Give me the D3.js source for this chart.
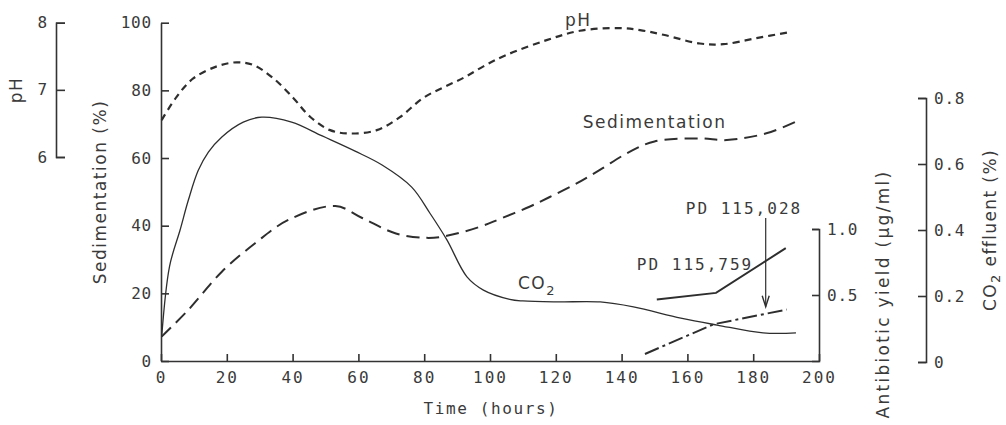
<!DOCTYPE html>
<html>
<head>
<meta charset="utf-8">
<script src="https://cdn.jsdelivr.net/npm/d3@7"></script>
<style>
  body { margin: 0; background: #fff; }
  svg { display: block; }
  .axis path, .axis line { stroke: #333; stroke-width: 1.6; fill: none; }
  .axis text { font-family: "DejaVu Sans Mono", monospace; font-size: 16px; fill: #3a3a3a; letter-spacing: 0.8px; }
  .x.axis text { letter-spacing: 2px; }
  .label { font-family: "DejaVu Sans", sans-serif; font-size: 17px; fill: #3a3a3a; letter-spacing: 1.5px; }
  .mono { font-family: "DejaVu Sans Mono", monospace; font-size: 16px; fill: #3a3a3a; letter-spacing: 2px; }
  .curve { fill: none; stroke: #2e2e2e; }
</style>
</head>
<body>
<div id="chart"></div>
<script>
// ---------------------------------------------------------------------------
// values: [time (h), value]

var timeTicks = [0, 20, 40, 60, 80, 100, 120, 140, 160, 180, 200];
var sedTicks = [0, 20, 40, 60, 80, 100];
var phTicks = [6, 7, 8];
var yieldTicks = [0.5, 1.0];
var co2Ticks = [0, 0.2, 0.4, 0.6, 0.8];

// pH (left outer axis)
var phSeries = [
  [0.2, 6.55], [4.8, 6.90], [9.8, 7.17], [17, 7.35], [23, 7.41], [28.1, 7.37],
  [34.2, 7.17], [40.2, 6.88], [45.3, 6.60], [51.4, 6.40], [57.5, 6.35],
  [65.6, 6.40], [72.5, 6.59], [79.7, 6.88], [86, 7.04], [92, 7.18],
  [98, 7.35], [105, 7.52], [117.2, 7.74], [127.3, 7.88], [139.5, 7.92], [145.6, 7.89],
  [152.7, 7.82], [163.8, 7.69], [170.9, 7.68], [181, 7.77], [191.2, 7.86]
];

// Sedimentation (%)
var sedSeries = [
  [0.2, 7.2], [8.3, 15.1], [18.5, 26.4], [28.6, 34.8], [38.7, 41.7], [53, 45.8],
  [61.3, 42.2], [71.4, 37.7], [80.8, 36.4], [86.9, 37.0], [97, 39.7],
  [103, 42.0], [112, 45.6], [118, 48.4], [126, 52.3], [133.4, 56.5], [142, 61.6],
  [150, 64.9], [163.8, 65.8], [172, 65.3], [184, 67.3], [192.7, 70.6]
];

// CO2 effluent (%)
var co2Series = [
  [0.2, 0.076], [2.6, 0.29], [5.8, 0.40], [8.3, 0.49], [11.3, 0.58], [14.4, 0.636],
  [18.5, 0.682], [25, 0.727], [30.6, 0.742], [39.7, 0.727], [49, 0.685],
  [59, 0.639], [67.2, 0.597], [76.2, 0.530], [81.8, 0.45], [86.9, 0.37],
  [93, 0.258], [98, 0.218], [106, 0.19], [110, 0.185], [120, 0.182],
  [133.5, 0.182], [143.6, 0.167], [158, 0.133], [169, 0.112], [183, 0.088],
  [193, 0.088]
];

// Antibiotic yield (ug/ml)
var pd115759 = [[150.7, 0.466], [168.7, 0.516], [189.9, 0.855]];
var pd115028 = [[147.1, 0.053], [167.9, 0.278], [190.2, 0.39]];

// ---------------------------------------------------------------------------

var width = 1006, height = 425;

var svg = d3.select('#chart').append('svg')
  .attr('width', width)
  .attr('height', height);

var x = d3.scaleLinear().domain([0, 200]).range([161, 819]);
var ySed = d3.scaleLinear().domain([0, 100]).range([361, 22.7]);
var yPh = d3.scaleLinear().domain([6, 8]).range([157, 22.7]);
var yYield = d3.scaleLinear().domain([0, 1]).range([361, 229]);
var yCo2 = d3.scaleLinear().domain([0, 0.8]).range([362, 98]);

// axes
svg.append('g')
  .attr('class', 'x axis')
  .attr('transform', 'translate(0,' + ySed(0) + ')')
  .call(d3.axisBottom(x).tickValues(timeTicks).tickSizeInner(-7).tickSizeOuter(0).tickPadding(11));

svg.append('g')
  .attr('class', 'axis')
  .attr('transform', 'translate(' + x(0) + ',0)')
  .call(d3.axisLeft(ySed).tickValues(sedTicks).tickSizeInner(-8).tickSizeOuter(0).tickPadding(9));

svg.append('g')
  .attr('class', 'axis')
  .attr('transform', 'translate(56,0)')
  .call(d3.axisLeft(yPh).tickValues(phTicks).tickSizeInner(-9).tickSizeOuter(-9)
    .tickPadding(8).tickFormat(d3.format('d')));

svg.append('g')
  .attr('class', 'axis')
  .attr('transform', 'translate(' + x(200) + ',0)')
  .call(d3.axisRight(yYield).tickValues(yieldTicks).tickSizeInner(-7).tickSizeOuter(-7)
    .tickPadding(8).tickFormat(d3.format('.1f')));

svg.append('g')
  .attr('class', 'axis')
  .attr('transform', 'translate(926,0)')
  .call(d3.axisRight(yCo2).tickValues(co2Ticks).tickSizeInner(-8).tickSizeOuter(-8)
    .tickPadding(8).tickFormat(function(d) { return d === 0 ? '0' : d3.format('.1f')(d); }));

// curves
function smooth(yScale) {
  return d3.line()
    .x(function(d) { return x(d[0]); })
    .y(function(d) { return yScale(d[1]); })
    .curve(d3.curveCatmullRom.alpha(0.5));
}
function straight(yScale) {
  return d3.line()
    .x(function(d) { return x(d[0]); })
    .y(function(d) { return yScale(d[1]); });
}

svg.append('path')
  .attr('class', 'curve')
  .attr('d', smooth(yPh)(phSeries))
  .attr('stroke-width', 2.2)
  .attr('stroke-dasharray', '7,5');

svg.append('path')
  .attr('class', 'curve')
  .attr('d', smooth(ySed)(sedSeries))
  .attr('stroke-width', 2)
  .attr('stroke-dasharray', '13,7');

svg.append('path')
  .attr('class', 'curve')
  .attr('d', smooth(yCo2)(co2Series))
  .attr('stroke-width', 1.3);

svg.append('path')
  .attr('class', 'curve')
  .attr('d', straight(yYield)(pd115759))
  .attr('stroke-width', 2);

svg.append('path')
  .attr('class', 'curve')
  .attr('d', straight(yYield)(pd115028))
  .attr('stroke-width', 2)
  .attr('stroke-dasharray', '15,4,3,4');

// arrow to PD 115,028
var arrowX = x(183.8), arrowTop = yYield(1.083), arrowTip = yYield(0.411);
svg.append('line')
  .attr('class', 'curve')
  .attr('x1', arrowX).attr('x2', arrowX)
  .attr('y1', arrowTop).attr('y2', arrowTip)
  .attr('stroke-width', 1.2);
svg.append('path')
  .attr('class', 'curve')
  .attr('stroke-width', 1.4)
  .attr('d', 'M' + (arrowX - 3.5) + ',' + (arrowTip - 11) + 'L' + arrowX + ',' + arrowTip +
    'L' + (arrowX + 3.5) + ',' + (arrowTip - 11));

// in-plot labels
svg.append('text').attr('class', 'mono')
  .attr('x', x(177.2)).attr('y', yYield(1.114))
  .attr('text-anchor', 'middle')
  .text('PD 115,028');
svg.append('text').attr('class', 'mono')
  .attr('x', x(180)).attr('y', yYield(0.689))
  .attr('text-anchor', 'end')
  .text('PD 115,759');
svg.append('text').attr('class', 'label')
  .attr('x', x(128.2)).attr('y', ySed(68.8))
  .attr('font-size', 18)
  .text('Sedimentation');
svg.append('text').attr('class', 'label')
  .attr('x', x(122.8)).attr('y', yPh(7.95))
  .attr('font-size', 18)
  .text('pH');
var co2Label = svg.append('text').attr('class', 'label')
  .attr('x', x(108.5)).attr('y', yCo2(0.221))
  .attr('font-size', 18);
co2Label.append('tspan').text('CO');
co2Label.append('tspan').attr('font-size', 13).attr('dy', 6).text('2');

// axis titles
svg.append('text').attr('class', 'mono')
  .attr('x', 491).attr('y', 414)
  .attr('text-anchor', 'middle')
  .attr('font-size', 17)
  .style('letter-spacing', '1.6px')
  .text('Time (hours)');

svg.append('text').attr('class', 'label')
  .attr('transform', 'translate(22,90) rotate(-90)')
  .attr('text-anchor', 'middle')
  .text('pH');

svg.append('text').attr('class', 'label')
  .attr('transform', 'translate(106,192) rotate(-90)')
  .attr('text-anchor', 'middle')
  .text('Sedimentation (%)');

svg.append('text').attr('class', 'label')
  .attr('transform', 'translate(889,294) rotate(-90)')
  .attr('text-anchor', 'middle')
  .attr('font-size', 18)
  .style('letter-spacing', '2.3px')
  .text('Antibiotic yield (\u00b5g/ml)');

var co2Title = svg.append('text').attr('class', 'label')
  .attr('transform', 'translate(996,230) rotate(-90)')
  .attr('text-anchor', 'middle')
  .attr('font-size', 18)
  .style('letter-spacing', '1.4px');
co2Title.append('tspan').text('CO');
co2Title.append('tspan').attr('font-size', 13).attr('dy', 4).text('2');
co2Title.append('tspan').attr('dy', -4).text(' effluent (%)');
</script>
</body>
</html>
